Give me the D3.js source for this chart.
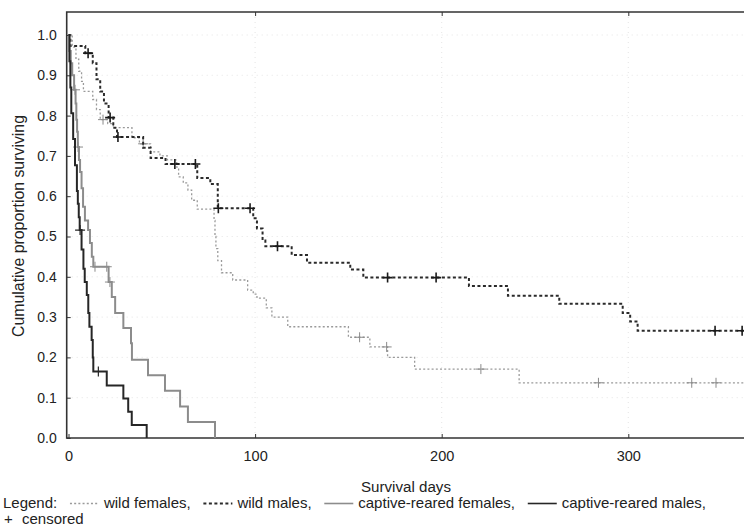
<!DOCTYPE html>
<html>
<head>
<meta charset="utf-8">
<script src="https://cdn.jsdelivr.net/npm/d3@7"></script>
<style>
  body { margin: 0; background: #fff; }
  svg text { font-family: "Liberation Sans", Arial, sans-serif; fill: #222; }
</style>
</head>
<body>
<div id="chart"></div>
<script>
/* DATA - [day, proportion surviving after the event] */
const wildFemales = [[0,1.0],[2,0.97],[4,0.94],[5.5,0.91],[7,0.885],[8,0.86],[13,0.84],[15,0.815],[17,0.79],[21,0.78],[24,0.77],[34,0.745],[38,0.73],
  [44,0.71],[49,0.70],[53,0.69],[58,0.672],[59,0.648],[61.5,0.633],[64,0.615],[66,0.59],[69,0.568],[78,0.54],[78.5,0.50],[79,0.47],[80,0.44],
  [82,0.41],[88,0.392],[96,0.367],[99,0.357],[101,0.347],[106,0.323],[109,0.30],[117.5,0.276],[150,0.25],[161.5,0.226],[171,0.20],[185.5,0.171],[241.5,0.137]];
const wildFemalesCensored = [[18.5,0.79],[40,0.73],[156,0.25],[170.5,0.226],[221,0.171],[284,0.137],[334,0.137],[347,0.137]];

const wildMales = [[0,1.0],[1,0.973],[9,0.955],[13,0.93],[15,0.89],[17,0.86],[19,0.83],[21.5,0.795],[24,0.77],[26,0.747],[40,0.72],[44,0.695],[52,0.68],
  [69,0.645],[76,0.63],[80,0.57],[99,0.545],[101,0.52],[104,0.49],[105.5,0.476],[119.6,0.454],[127.8,0.435],[151,0.418],[158,0.398],
  [214.6,0.377],[235.5,0.353],[263,0.333],[297,0.31],[301,0.289],[305,0.266]];
const wildMalesCensored = [[10.5,0.955],[22.3,0.795],[26.5,0.747],[57,0.68],[68,0.68],[80.3,0.57],[97.3,0.57],[112,0.476],[171,0.398],[197,0.398],[346.5,0.266],[361,0.266]];

const captiveFemales = [[0,1.0],[0.5,0.96],[1.2,0.93],[2,0.9],[3,0.864],[3.8,0.83],[4.2,0.79],[4.6,0.76],[5,0.722],[5.6,0.69],[6.2,0.66],[7,0.62],
  [7.8,0.574],[8.8,0.54],[10.5,0.516],[11.5,0.484],[12.5,0.45],[13.3,0.425],[21.5,0.387],[23.2,0.35],[25,0.31],[29.4,0.273],[33.5,0.235],
  [34,0.194],[42.6,0.156],[51.7,0.117],[59.8,0.078],[64,0.04],[78.5,0]];
const captiveFemalesCensored = [[3.5,0.864],[5.1,0.722],[14.2,0.425],[20.5,0.425],[22.2,0.387]];

const captiveMales = [[0,1.0],[0.5,0.935],[1,0.87],[1.5,0.806],[2.5,0.742],[3.5,0.677],[4.5,0.613],[5,0.581],[5.5,0.548],[6,0.516],[7,0.468],
  [8,0.42],[8.7,0.387],[9.8,0.355],[10.6,0.31],[11.2,0.276],[12.4,0.243],[13,0.2],[13.3,0.165],[20.5,0.13],[29.4,0.098],[32,0.065],[33.9,0.032],[41.9,0]];
const captiveMalesCensored = [[6.2,0.516],[16,0.165]];

const followUpEnd = 365;
const xTicks = [0, 100, 200, 300];
const yTicks = [0, 0.1, 0.2, 0.3, 0.4, 0.5, 0.6, 0.7, 0.8, 0.9, 1.0];
const legendLabels = ["wild females,", "wild males,", "captive-reared females,", "captive-reared males,"];

/* CONSTANTS */
const width = 744, height = 530;
const plotLeft = 66.7, plotTop = 12, plotBottom = 438;

const xScale = d3.scaleLinear().domain([0, 300]).range([68.5, 628.3]);
const yScale = d3.scaleLinear().domain([0, 1]).range([plotBottom, 35]);

const svg = d3.select("#chart").append("svg")
  .attr("width", width)
  .attr("height", height);

// scale a text's font so it spans a given length
function fitText(sel, len) {
  sel.style("font-size", "20px");
  const w = sel.node().getComputedTextLength();
  sel.style("font-size", (20 * len / w).toFixed(2) + "px");
}

svg.append("defs").append("clipPath").attr("id", "plot")
  .append("rect")
  .attr("x", plotLeft).attr("y", plotTop)
  .attr("width", width - plotLeft).attr("height", plotBottom - plotTop);

// faint dotted grid
svg.append("g").selectAll("line")
  .data(yTicks.filter(d => d > 0))
  .join("line")
  .attr("x1", plotLeft).attr("x2", width)
  .attr("y1", d => yScale(d)).attr("y2", d => yScale(d))
  .attr("stroke", "#dedede").attr("stroke-width", 0.8).attr("stroke-dasharray", "1,4");

svg.append("g").selectAll("line")
  .data(xTicks.filter(d => d > 0))
  .join("line")
  .attr("x1", d => xScale(d)).attr("x2", d => xScale(d))
  .attr("y1", plotTop).attr("y2", plotBottom)
  .attr("stroke", "#dedede").attr("stroke-width", 0.8).attr("stroke-dasharray", "1,4");

// axes with inward ticks
const yAxis = d3.axisLeft(yScale).tickValues(yTicks).tickFormat(d3.format(".1f")).tickSizeInner(-4).tickSizeOuter(0).tickPadding(10);
const gy = svg.append("g").attr("transform", `translate(${plotLeft},0)`).call(yAxis);
gy.select(".domain").remove();
gy.selectAll("line").attr("stroke", "#333");
gy.selectAll("text").style("font-size", "14px");

const xAxis = d3.axisBottom(xScale).tickValues(xTicks).tickSizeInner(-4).tickSizeOuter(0).tickPadding(13);
const gx = svg.append("g").attr("transform", `translate(0,${plotBottom})`).call(xAxis);
gx.select(".domain").remove();
gx.selectAll("line").attr("stroke", "#333");
gx.selectAll("text").style("font-size", "14.5px");

const xTop = d3.axisTop(xScale).tickValues(xTicks.filter(d => d > 0)).tickSizeInner(-4).tickSizeOuter(0).tickFormat("");
const gt = svg.append("g").attr("transform", `translate(0,${plotTop})`).call(xTop);
gt.select(".domain").remove();
gt.selectAll("line").attr("stroke", "#333");

// frame
svg.append("path")
  .attr("d", `M${width + 2},${plotTop}H${plotLeft}V${plotBottom}H${width + 2}`)
  .attr("fill", "none").attr("stroke", "#333").attr("stroke-width", 1.6);

/* CURVES */
const series = [
  { data: wildFemales, cens: wildFemalesCensored, end: followUpEnd, color: "#9a9a9a", width: 1.3, dash: "2,2.2", crossW: 1, crossColor: "#8a8a8a" },
  { data: wildMales, cens: wildMalesCensored, end: followUpEnd, color: "#2a2a2a", width: 2, dash: "3,2.5", crossW: 1.6, crossColor: "#1a1a1a" },
  { data: captiveFemales, cens: captiveFemalesCensored, end: null, color: "#8c8c8c", width: 2, dash: null, crossW: 1, crossColor: "#8c8c8c" },
  { data: captiveMales, cens: captiveMalesCensored, end: null, color: "#262626", width: 2, dash: null, crossW: 1.2, crossColor: "#262626" }
];

const stepLine = d3.line()
  .x(d => xScale(d[0]))
  .y(d => yScale(d[1]))
  .curve(d3.curveStepAfter);

const curves = svg.append("g").attr("clip-path", "url(#plot)");

series.forEach(s => {
  const pts = s.data.slice();
  if (s.end !== null) pts.push([s.end, pts[pts.length - 1][1]]);
  curves.append("path")
    .datum(pts)
    .attr("d", stepLine)
    .attr("fill", "none")
    .attr("stroke", s.color)
    .attr("stroke-width", s.width)
    .attr("stroke-dasharray", s.dash);

  curves.selectAll(null)
    .data(s.cens)
    .join("path")
    .attr("d", d => {
      const cx = xScale(d[0]), cy = yScale(d[1]);
      return `M${cx - 5},${cy}H${cx + 5}M${cx},${cy - 5}V${cy + 5}`;
    })
    .attr("stroke", s.crossColor)
    .attr("stroke-width", s.crossW)
    .attr("fill", "none");
});

/* TITLES */
const yTitle = svg.append("text")
  .attr("transform", `translate(24,226) rotate(-90)`)
  .attr("text-anchor", "middle")
  .text("Cumulative proportion surviving");
fitText(yTitle, 222);

const xTitle = svg.append("text")
  .attr("x", 406).attr("y", 492)
  .attr("text-anchor", "middle")
  .text("Survival days");
fitText(xTitle, 90);

/* LEGEND */
// one row from x=3 to about x=706, evenly spaced
const legend = svg.append("g").style("font-size", "15px");
const lead = legend.append("text").attr("x", 3).attr("y", 508).text("Legend:");
const labels = legendLabels.map(l => legend.append("text").attr("y", 508).text(l));
const textTotal = lead.node().getComputedTextLength() + d3.sum(labels, t => t.node().getComputedTextLength());
const keyW = 29, keyPad = 5;
const gap = (706 - 3 - textTotal - legendLabels.length * (keyW + keyPad)) / legendLabels.length;

let lx = 3 + lead.node().getComputedTextLength();
labels.forEach((t, i) => {
  const s = series[i];
  lx += gap;
  legend.append("line")
    .attr("x1", lx).attr("x2", lx + keyW)
    .attr("y1", 503.5).attr("y2", 503.5)
    .attr("stroke", s.color)
    .attr("stroke-width", s.dash ? s.width : 1.6)
    .attr("stroke-dasharray", s.dash);
  lx += keyW + keyPad;
  t.attr("x", lx);
  lx += t.node().getComputedTextLength();
});

legend.append("text").attr("x", 4).attr("y", 524).text("+");
legend.append("text").attr("x", 22).attr("y", 524).text("censored");
</script>
</body>
</html>
